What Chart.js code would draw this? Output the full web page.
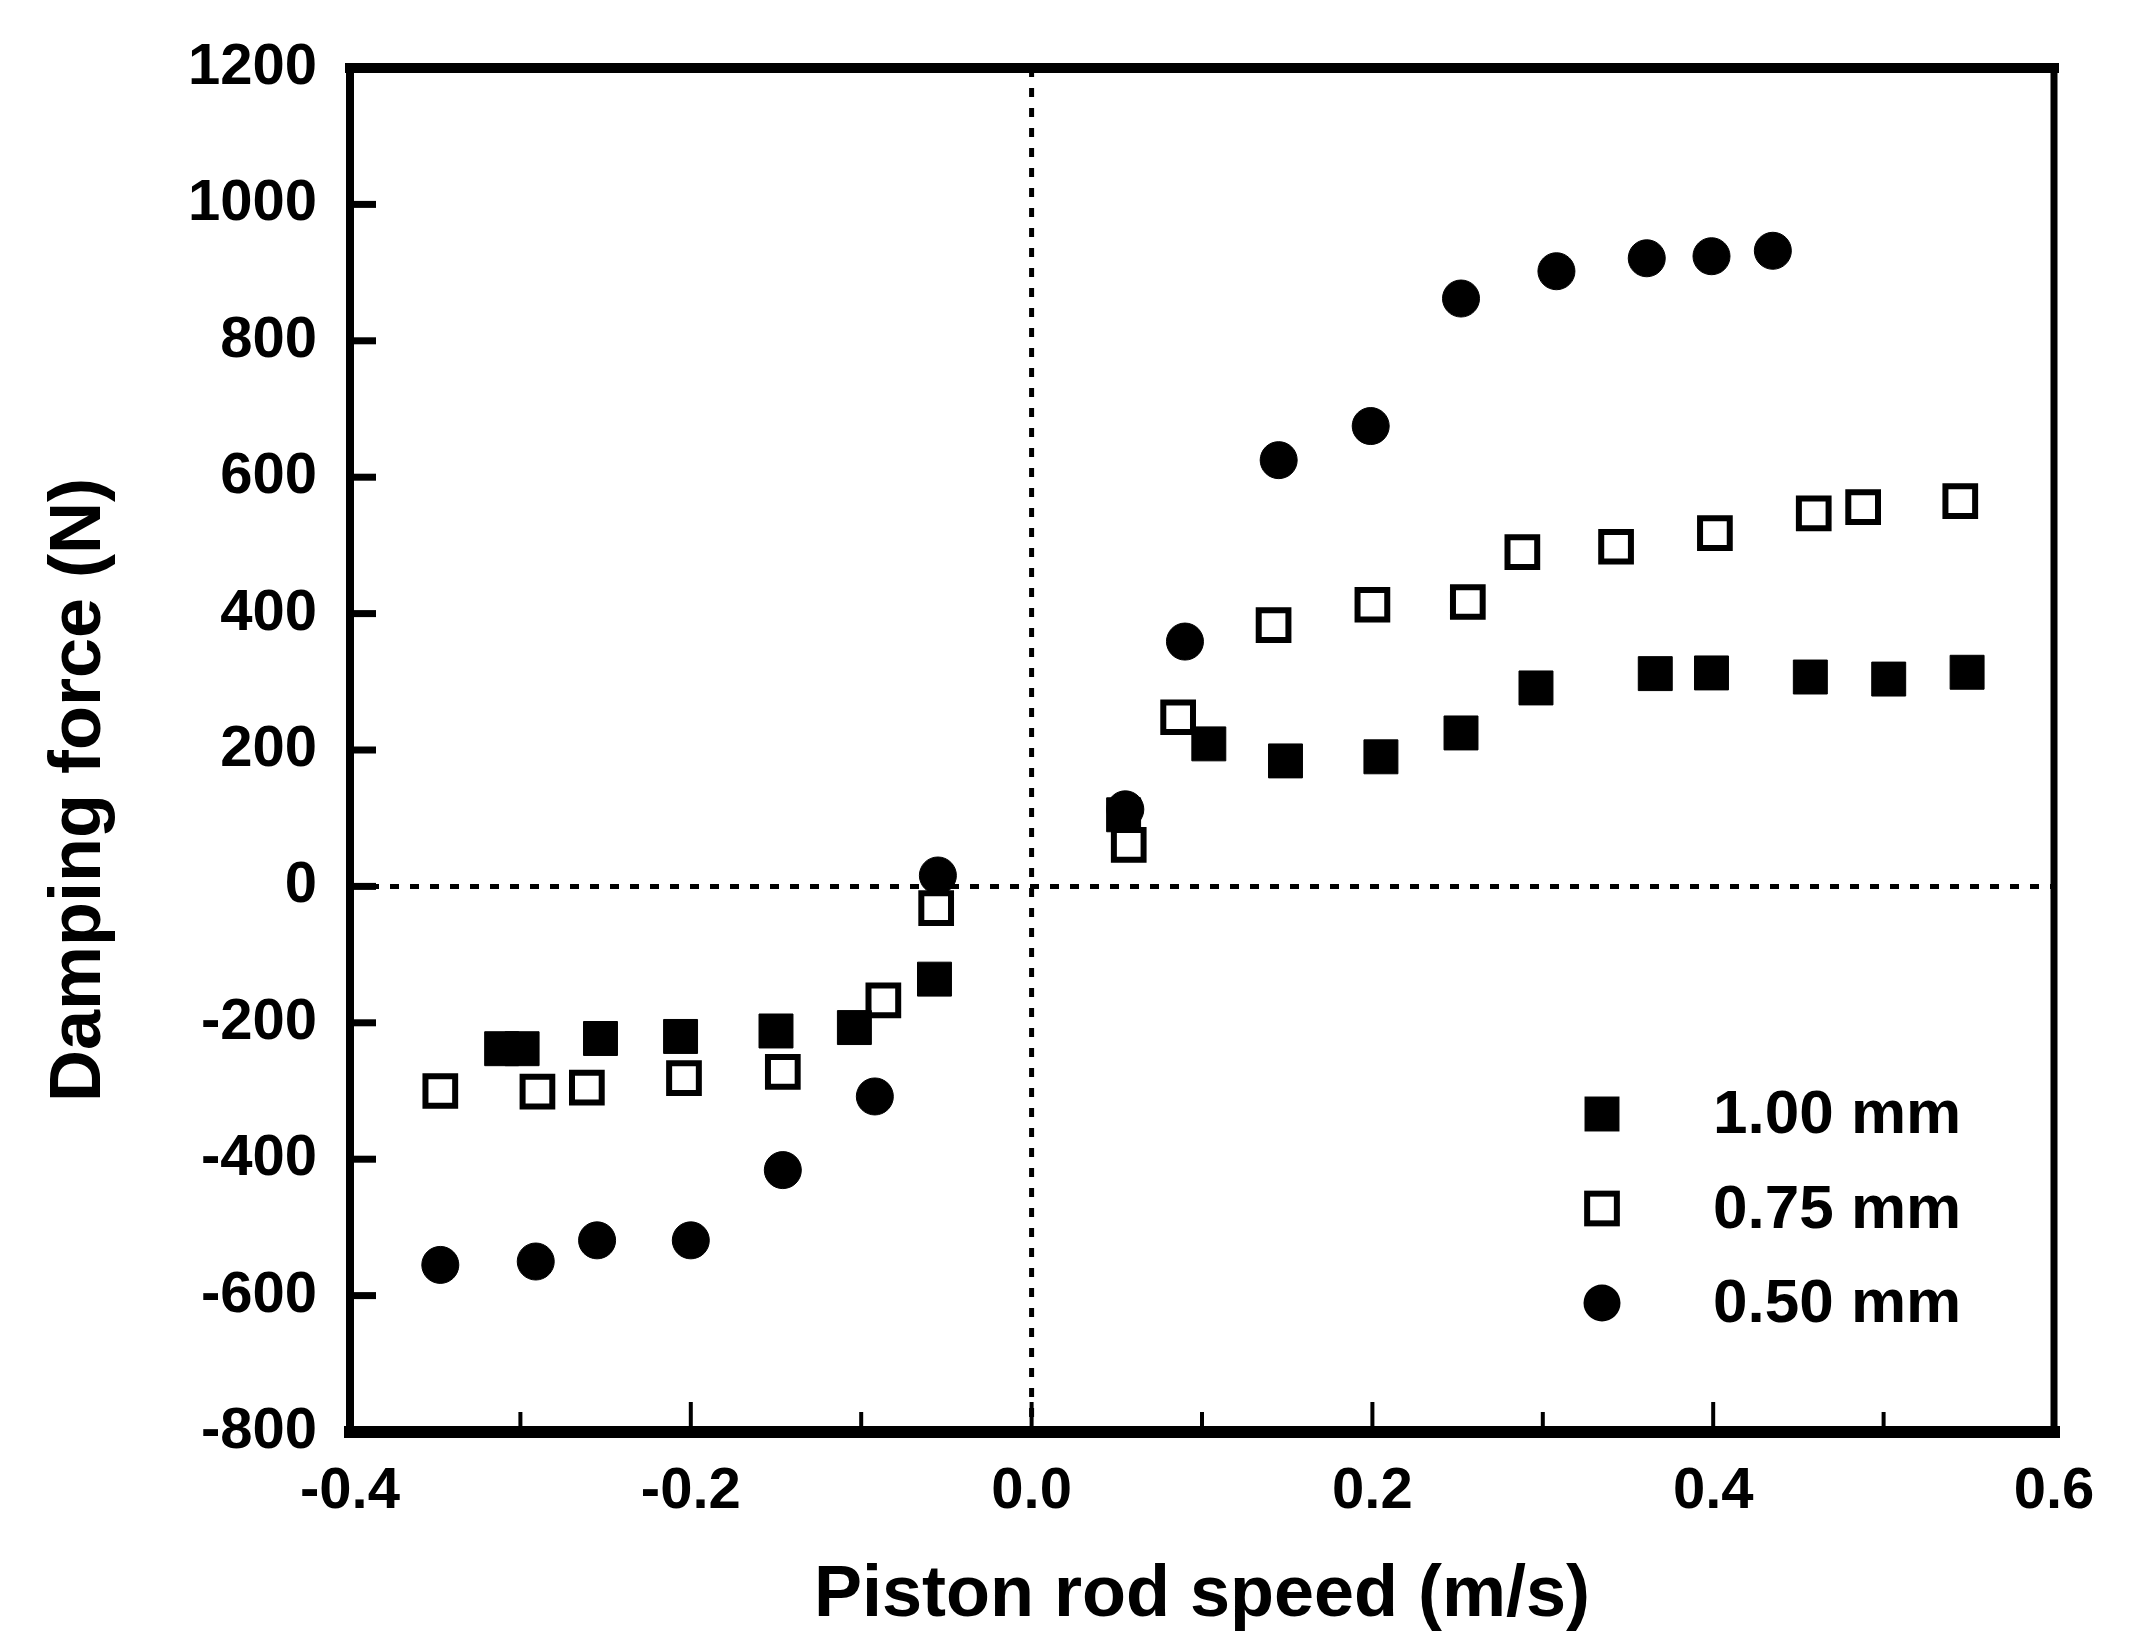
<!DOCTYPE html>
<html>
<head>
<meta charset="utf-8">
<title>Damping force vs piston rod speed</title>
<script src="https://cdn.jsdelivr.net/npm/chart.js@4.4.0/dist/chart.umd.min.js"></script>
<style>
  html, body { margin: 0; padding: 0; background: #fff; }
  #wrap { width: 2146px; height: 1639px; }
</style>
</head>
<body>
<div id="wrap"><canvas id="chart" width="2146" height="1639"></canvas></div>
<script>
// 1.00 mm (filled squares)
const speed100 = [-0.311, -0.299, -0.253, -0.206, -0.150, -0.104, -0.057, 0.054, 0.104, 0.149, 0.205, 0.252, 0.296, 0.366, 0.399, 0.457, 0.503, 0.549];
const force100 = [-238, -238, -223, -220, -212, -207, -136, 105, 209, 184, 190, 225, 291, 312, 313, 307, 304, 314];

// 0.75 mm (open squares)
const speed075 = [-0.347, -0.290, -0.261, -0.204, -0.146, -0.087, -0.056, 0.057, 0.086, 0.142, 0.200, 0.256, 0.288, 0.343, 0.401, 0.459, 0.488, 0.545];
const force075 = [-300, -301, -295, -281, -272, -167, -32, 61, 248, 383, 413, 417, 490, 498, 518, 547, 556, 565];

// 0.50 mm (filled circles)
const speed050 = [-0.347, -0.291, -0.255, -0.200, -0.146, -0.092, -0.055, 0.055, 0.090, 0.145, 0.199, 0.252, 0.308, 0.361, 0.399, 0.435];
const force050 = [-555, -550, -519, -519, -416, -308, 16, 113, 359, 625, 675, 862, 902, 921, 924, 932];

const seriesNames = ['1.00 mm', '0.75 mm', '0.50 mm'];

const xTicks = [-0.4, -0.2, 0.0, 0.2, 0.4, 0.6];
const xTickLabels = ['-0.4', '-0.2', '0.0', '0.2', '0.4', '0.6'];
const xMinorTicks = [-0.3, -0.1, 0.1, 0.3, 0.5];
const yTicks = [-800, -600, -400, -200, 0, 200, 400, 600, 800, 1000, 1200];
const yTickLabels = ['-800', '-600', '-400', '-200', '0', '200', '400', '600', '800', '1000', '1200'];

const xTitle = 'Piston rod speed (m/s)';
const yTitle = 'Damping force (N)';

const FONT = "'Liberation Sans', Arial, Helvetica, sans-serif";

function toPoints(xs, ys) {
  return xs.map((x, i) => ({ x: x, y: ys[i] }));
}

// frame, inward ticks, dotted zero lines, legend and y title
const framePlugin = {
  id: 'framePlugin',
  beforeDatasetsDraw(chart) {
    const { ctx, chartArea: a, scales: { x, y } } = chart;
    const x0 = x.getPixelForValue(0);
    const y0 = y.getPixelForValue(0);
    ctx.save();
    ctx.strokeStyle = '#000';
    ctx.lineWidth = 5;
    ctx.setLineDash([9, 11]);
    ctx.beginPath();
    ctx.moveTo(a.left, y0);
    ctx.lineTo(a.right, y0);
    ctx.moveTo(x0, a.top);
    ctx.lineTo(x0, a.bottom);
    ctx.stroke();
    ctx.restore();
  },
  afterDraw(chart) {
    const { ctx, chartArea: a, scales: { x, y } } = chart;
    ctx.save();
    ctx.strokeStyle = '#000';
    ctx.fillStyle = '#000';

    // inward ticks on the left axis
    ctx.lineWidth = 7;
    yTicks.slice(1, -1).forEach(v => {
      const py = y.getPixelForValue(v);
      ctx.beginPath();
      ctx.moveTo(a.left, py);
      ctx.lineTo(a.left + 26, py);
      ctx.stroke();
    });

    // inward ticks on the bottom axis
    ctx.lineWidth = 4;
    xTicks.slice(1, -1).forEach(v => {
      const px = x.getPixelForValue(v);
      ctx.beginPath();
      ctx.moveTo(px, a.bottom);
      ctx.lineTo(px, a.bottom - 30);
      ctx.stroke();
    });
    xMinorTicks.forEach(v => {
      const px = x.getPixelForValue(v);
      ctx.beginPath();
      ctx.moveTo(px, a.bottom);
      ctx.lineTo(px, a.bottom - 20);
      ctx.stroke();
    });

    // frame
    ctx.lineCap = 'square';
    const side = (w, x1, y1, x2, y2) => {
      ctx.lineWidth = w;
      ctx.beginPath();
      ctx.moveTo(x1, y1);
      ctx.lineTo(x2, y2);
      ctx.stroke();
    };
    side(10, a.left, a.top, a.right, a.top);
    side(7, a.right, a.top, a.right, a.bottom);
    side(12, a.left, a.bottom, a.right, a.bottom);
    side(8, a.left, a.top, a.left, a.bottom);
    ctx.lineCap = 'butt';

    // legend
    const lx = a.right - 452;
    const tx = a.right - 341;
    const ly = a.top + 1046;
    const gap = 94.5;
    ctx.font = 'bold 62px ' + FONT;
    ctx.textAlign = 'left';
    ctx.textBaseline = 'middle';
    chart.data.datasets.forEach((ds, i) => {
      const py = ly + i * gap;
      const r = ds.pointRadius;
      if (ds.pointStyle === 'circle') {
        ctx.beginPath();
        ctx.arc(lx, py, r, 0, Math.PI * 2);
        ctx.fillStyle = ds.pointBackgroundColor;
        ctx.fill();
      } else {
        const h = r * Math.SQRT1_2;
        ctx.fillStyle = ds.pointBackgroundColor;
        ctx.fillRect(lx - h, py - h, 2 * h, 2 * h);
        ctx.lineWidth = ds.pointBorderWidth;
        ctx.strokeStyle = ds.pointBorderColor;
        ctx.strokeRect(lx - h, py - h, 2 * h, 2 * h);
      }
      ctx.fillStyle = '#000';
      ctx.fillText(ds.label, tx, py + 2);
    });

    // y axis title
    ctx.font = 'bold 72px ' + FONT;
    ctx.textAlign = 'center';
    ctx.textBaseline = 'middle';
    ctx.translate(a.left - 270, (a.top + a.bottom) / 2 + 40);
    ctx.rotate(-Math.PI / 2);
    ctx.fillText(yTitle, 0, 0);
    ctx.restore();
  }
};

const ctx = document.getElementById('chart').getContext('2d');

const myChart = new Chart(ctx, {
  type: 'scatter',
  data: {
    datasets: [
      {
        label: seriesNames[0],
        data: toPoints(speed100, force100),
        pointStyle: 'rect',
        pointRadius: 24,
        pointBackgroundColor: '#000',
        pointBorderColor: '#000',
        pointBorderWidth: 1
      },
      {
        label: seriesNames[1],
        data: toPoints(speed075, force075),
        pointStyle: 'rect',
        pointRadius: 21,
        pointBackgroundColor: '#fff',
        pointBorderColor: '#000',
        pointBorderWidth: 6
      },
      {
        label: seriesNames[2],
        data: toPoints(speed050, force050),
        pointStyle: 'circle',
        pointRadius: 18.5,
        pointBackgroundColor: '#000',
        pointBorderColor: '#000',
        pointBorderWidth: 1
      }
    ]
  },
  options: {
    responsive: false,
    devicePixelRatio: 1,
    animation: false,
    events: [],
    layout: { padding: { left: 0, right: 92, top: 68, bottom: 0 } },
    plugins: {
      legend: { display: false },
      tooltip: { enabled: false }
    },
    scales: {
      x: {
        type: 'linear',
        min: -0.4,
        max: 0.6,
        grid: { display: false },
        border: { display: false },
        afterBuildTicks: axis => { axis.ticks = xTicks.map(v => ({ value: v })); },
        afterFit: axis => { axis.height = 207; },
        ticks: {
          padding: 17,
          color: '#000',
          maxRotation: 0,
          font: { family: FONT, size: 58, weight: 'bold' },
          callback: (value, index) => xTickLabels[index]
        },
        title: {
          display: true,
          text: xTitle,
          color: '#000',
          padding: 0,
          font: { family: FONT, size: 72, weight: 'bold' }
        }
      },
      y: {
        type: 'linear',
        min: -800,
        max: 1200,
        grid: { display: false },
        border: { display: false },
        afterBuildTicks: axis => { axis.ticks = yTicks.map(v => ({ value: v })); },
        afterFit: axis => { axis.width = 350; },
        ticks: {
          padding: 25,
          color: '#000',
          font: { family: FONT, size: 58, weight: 'bold' },
          callback: (value, index) => yTickLabels[index]
        }
      }
    }
  },
  plugins: [framePlugin]
});
</script>
</body>
</html>
